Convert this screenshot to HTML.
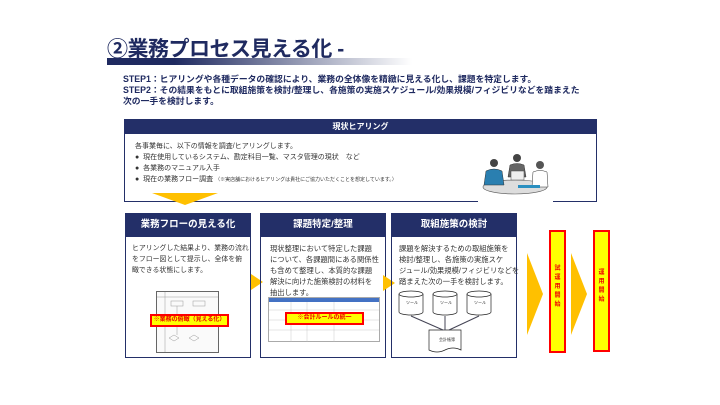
<!DOCTYPE html>
<html><head><meta charset="utf-8"><style>
*{margin:0;padding:0;box-sizing:border-box}
body{width:720px;height:405px;background:#fff;position:relative;overflow:hidden;font-family:"Liberation Sans","Noto Sans CJK JP",sans-serif;color:#222}
.a{position:absolute}
.title{left:107px;top:33px;font-size:21px;font-weight:bold;color:#1f2a60;letter-spacing:-0.5px;white-space:nowrap}
.bar{left:107px;top:58px;width:305px;height:7px;background:linear-gradient(90deg,#1f2a60 0%,#1f2a60 22%,#fff 100%)}
.step{left:123px;top:74px;font-size:8.8px;font-weight:bold;color:#1f2a60;line-height:11px;white-space:nowrap}
.hd{background:#232f68;color:#fff;font-weight:bold;text-align:center}
.box{border:1px solid #232f68;border-top:none}
.txt{font-size:7.3px;color:#333;line-height:11px;white-space:nowrap}
.red{background:#ff0;border:2px solid #f00;color:#e00;font-weight:bold;font-size:6px;text-align:center}
.tri{width:0;height:0;border-top:13px solid transparent;border-bottom:13px solid transparent;border-left:13px solid #ffc000}
</style></head><body>
<div class="a title">②業務プロセス見える化 -</div>
<div class="a bar"></div>
<div class="a step">STEP1：ヒアリングや各種データの確認により、業務の全体像を精緻に見える化し、課題を特定します。<br>STEP2：その結果をもとに取組施策を検討/整理し、各施策の実施スケジュール/効果規模/フィジビリなどを踏まえた<br>次の一手を検討します。</div>

<div class="a hd" style="left:124px;top:119px;width:473px;height:15px;font-size:8px;line-height:15px">現状ヒアリング</div>
<div class="a box" style="left:124px;top:134px;width:473px;height:68px"></div>
<div class="a txt" style="left:135px;top:141px;font-size:7px">各事業毎に、以下の情報を調査/ヒアリングします。<br>●&nbsp; 現在使用しているシステム、勘定科目一覧、マスタ管理の現状　など<br>●&nbsp; 各業務のマニュアル入手<br>●&nbsp; 現在の業務フロー調査 <span style="font-size:5px">（※実店舗におけるヒアリングは貴社にご協力いただくことを想定しています。）</span></div>
<div class="a" style="left:478px;top:145px;width:75px;height:60px;background:#fff">
<svg width="75" height="60"><ellipse cx="37" cy="42" rx="32" ry="7" fill="#ddd" stroke="#555" stroke-width=".6"/>
<circle cx="16" cy="18" r="4" fill="#444"/><path d="M6 40 L8 26 Q16 22 24 26 L26 40Z" fill="#2a7fb0" stroke="#333" stroke-width=".5"/>
<circle cx="39" cy="13" r="4" fill="#444"/><path d="M30 32 L32 20 Q39 17 46 20 L48 32Z" fill="#666" stroke="#333" stroke-width=".5"/>
<rect x="33" y="26" width="13" height="9" fill="#eee" stroke="#444" stroke-width=".5"/>
<circle cx="62" cy="20" r="4" fill="#555"/><path d="M54 42 L55 27 Q62 24 69 27 L70 42Z" fill="#fff" stroke="#333" stroke-width=".5"/>
<rect x="40" y="40" width="22" height="3" fill="#2a8fc0"/></svg></div>
<div class="a" style="left:152px;top:193px;width:0;height:0;border-left:33px solid transparent;border-right:33px solid transparent;border-top:12px solid #ffc000"></div>

<!-- box1 -->
<div class="a hd" style="left:125px;top:213px;width:126px;height:24px;font-size:9.5px;line-height:24px">業務フローの見える化</div>
<div class="a box" style="left:125px;top:237px;width:126px;height:121px"></div>
<div class="a txt" style="left:132px;top:243px;font-size:6.9px">ヒアリングした結果より、業務の流れ<br>をフロー図として提示し、全体を俯<br>瞰できる状態にします。</div>
<div class="a" style="left:156px;top:291px;width:63px;height:62px;border:1px solid #666;background:#fafafa">
<svg width="61" height="60"><g stroke="#999" stroke-width=".5" fill="none"><line x1="0" y1="5" x2="61" y2="5"/><line x1="8" y1="0" x2="8" y2="60"/><rect x="14" y="9" width="12" height="5"/><rect x="36" y="9" width="12" height="5"/><path d="M12 46 l5 -3 5 3 -5 3z"/><path d="M32 46 l5 -3 5 3 -5 3z"/><line x1="20" y1="14" x2="20" y2="43"/></g></svg></div>
<div class="a red" style="left:150px;top:314px;width:79px;height:13px;line-height:9px">※業務の俯瞰（見える化）</div>

<div class="a tri" style="left:251px;top:274px;border-top-width:8px;border-bottom-width:8px;border-left-width:12px"></div>

<!-- box2 -->
<div class="a hd" style="left:260px;top:213px;width:126px;height:24px;font-size:9.5px;line-height:24px">課題特定/整理</div>
<div class="a box" style="left:260px;top:237px;width:126px;height:121px"></div>
<div class="a txt" style="left:270px;top:243px">現状整理において特定した課題<br>について、各課題間にある関係性<br>も含めて整理し、本質的な課題<br>解決に向けた施策検討の材料を<br>抽出します。</div>
<div class="a" style="left:268px;top:297px;width:112px;height:45px;border:1px solid #aaa;background:#fff">
<div style="height:4px;background:#4472c4"></div>
<svg width="110" height="40"><g stroke="#bbb" stroke-width=".4"><line x1="0" y1="8" x2="110" y2="8"/><line x1="0" y1="18" x2="110" y2="18"/><line x1="0" y1="28" x2="110" y2="28"/><line x1="22" y1="0" x2="22" y2="40"/><line x1="38" y1="0" x2="38" y2="40"/><line x1="65" y1="0" x2="65" y2="40"/></g></svg></div>
<div class="a red" style="left:285px;top:312px;width:79px;height:13px;line-height:9px">※会計ルールの統一</div>

<div class="a tri" style="left:383px;top:275px;border-top-width:8px;border-bottom-width:8px;border-left-width:12px"></div>

<!-- box3 -->
<div class="a hd" style="left:391px;top:213px;width:126px;height:24px;font-size:9.5px;line-height:24px">取組施策の検討</div>
<div class="a box" style="left:391px;top:237px;width:126px;height:121px"></div>
<div class="a txt" style="left:399px;top:243px">課題を解決するための取組施策を<br>検討/整理し、各施策の実施スケ<br>ジュール/効果規模/フィジビリなどを<br>踏まえた次の一手を検討します。</div>
<svg class="a" style="left:395px;top:290px" width="120" height="66">
<g fill="#fff" stroke="#222" stroke-width=".7">
<path d="M4 4 v18 a12 3 0 0 0 24 0 v-18"/><ellipse cx="16" cy="4" rx="12" ry="3"/>
<path d="M38 4 v18 a12 3 0 0 0 24 0 v-18"/><ellipse cx="50" cy="4" rx="12" ry="3"/>
<path d="M72 4 v18 a12 3 0 0 0 24 0 v-18"/><ellipse cx="84" cy="4" rx="12" ry="3"/>
<path d="M34 40 h32 v20 q-8 -4 -16 0 t-16 0z"/></g>
<g stroke="#445" stroke-width="1"><line x1="16" y1="26" x2="48" y2="40"/><line x1="50" y1="26" x2="50" y2="40"/><line x1="84" y1="26" x2="54" y2="40"/></g>
<g font-size="4" fill="#333"><text x="11" y="14">ツール</text><text x="45" y="14">ツール</text><text x="79" y="14">ツール</text><text x="44" y="51">会計帳簿</text></g></svg>

<!-- right -->
<div class="a" style="left:527px;top:253px;width:0;height:0;border-top:41px solid transparent;border-bottom:41px solid transparent;border-left:16px solid #ffc000"></div>
<div class="a" style="left:549px;top:230px;width:17px;height:123px;background:#ff0;border:2px solid #f00;color:#e00;font-size:6px;font-weight:bold;text-align:center;line-height:9px;padding-top:33px">試<br>運<br>用<br>開<br>始</div>
<div class="a" style="left:571px;top:253px;width:0;height:0;border-top:41px solid transparent;border-bottom:41px solid transparent;border-left:16px solid #ffc000"></div>
<div class="a" style="left:593px;top:230px;width:17px;height:122px;background:#ff0;border:2px solid #f00;color:#e00;font-size:6px;font-weight:bold;text-align:center;line-height:9px;padding-top:37px">運<br>用<br>開<br>始</div>
</body></html>
